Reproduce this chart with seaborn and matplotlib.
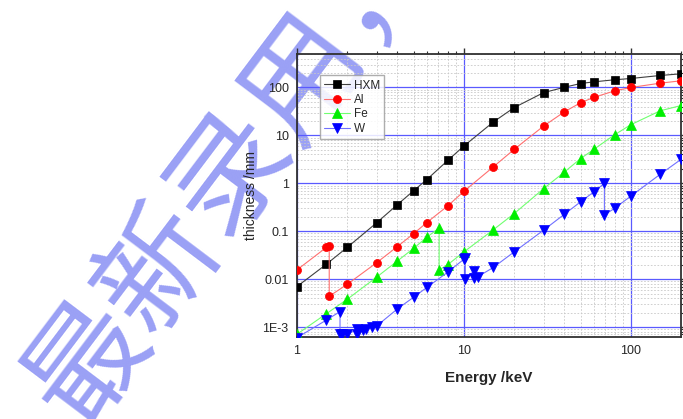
import numpy as np
import pandas as pd
import matplotlib
matplotlib.use("Agg")
import matplotlib.pyplot as plt
from matplotlib.ticker import FixedLocator, FixedFormatter, LogLocator, NullFormatter
import seaborn as sns

# ---- data ----
hxm_E = [1, 1.5, 2, 3, 4, 5, 6, 8, 10, 15, 20, 30, 40, 50, 60, 80, 100, 150, 200]
hxm_t = [0.0070, 0.0205, 0.046, 0.15, 0.36, 0.70, 1.2, 3.0, 6.0, 19, 38, 78, 101, 121, 131, 145, 154, 178, 193]

al_E = [1, 1.5, 1.56, 1.56, 2, 3, 4, 5, 6, 8, 10, 15, 20, 30, 40, 50, 60, 80, 100, 150, 200]
al_t = [0.0156, 0.046, 0.050, 0.0044, 0.0078, 0.022, 0.048, 0.089, 0.152, 0.337, 0.68, 2.2, 5.1, 15.6, 31, 48, 62, 85, 100, 123, 138]

fe_E = [1, 1.5, 2, 3, 4, 5, 6, 7.11, 7.11, 8, 10, 15, 20, 30, 40, 50, 60, 80, 100, 150, 200]
fe_t = [0.00071, 0.0019, 0.0038, 0.011, 0.024, 0.044, 0.075, 0.117, 0.0156, 0.020, 0.037, 0.107, 0.233, 0.77, 1.72, 3.27, 5.1, 10.3, 16.7, 32.6, 42]

w_E = [1, 1.5, 1.81, 1.81, 1.87, 2.0, 2.28, 2.28, 2.5, 2.6, 2.8, 3.0, 4, 5, 6, 8, 10, 10.2, 10.2,
       11.5, 11.5, 12.1, 15, 20, 30, 40, 50, 60, 69.5, 69.5, 80, 100, 150, 200]
w_t = [0.0006, 0.0014, 0.0021, 0.00072, 0.00070, 0.00070, 0.00090, 0.00073, 0.00085, 0.00092, 0.00098, 0.00105,
       0.0024, 0.0042, 0.0067, 0.014, 0.026, 0.027, 0.0102, 0.0148, 0.0104, 0.0112, 0.0175, 0.037, 0.105,
       0.226, 0.41, 0.66, 1.0, 0.22, 0.30, 0.54, 1.54, 3.16]

series_names = ["HXM", "Al", "Fe", "W"]
y_ticks = [0.001, 0.01, 0.1, 1, 10, 100]
y_tick_labels = ["1E-3", "0.01", "0.1", "1", "10", "100"]
x_ticks = [1, 10, 100]
x_tick_labels = ["1", "10", "100"]
watermark = "最新录用，"

# ---- style ----
sns.set_style("white")
plt.rcParams["font.family"] = ["Liberation Sans", "DejaVu Sans"]

fig = plt.figure(figsize=(6.83, 4.19), dpi=100)
ax = fig.add_axes([297 / 683, 1 - 337 / 419, (681 - 297) / 683, (337 - 54) / 419])
ax.patch.set_alpha(0.0)

styles = {
    "HXM": dict(line="#404040", mk="s", mc="black", ms=5.2),
    "Al": dict(line="#ff7070", mk="o", mc="#ff0000", ms=5.8),
    "Fe": dict(line="#70ff70", mk="^", mc="#00ee00", ms=6.5),
    "W": dict(line="#7070ff", mk="v", mc="#0000ff", ms=6.5),
}
data = {"HXM": (hxm_E, hxm_t), "Al": (al_E, al_t), "Fe": (fe_E, fe_t), "W": (w_E, w_t)}

for name in series_names:
    E, t = data[name]
    df = pd.DataFrame({"E": E, "t": t})
    st = styles[name]
    sns.lineplot(data=df, x="E", y="t", ax=ax, sort=False, estimator=None,
                 color=st["line"], lw=0.8, marker=st["mk"], markersize=st["ms"],
                 markerfacecolor=st["mc"], markeredgecolor=st["mc"], markeredgewidth=0.5,
                 label=name, zorder=3)

ax.set_xscale("log")
ax.set_yscale("log")
ax.set_xlim(1, 200)
ax.set_ylim(6.2e-4, 500)

ax.xaxis.set_major_locator(FixedLocator(x_ticks))
ax.xaxis.set_major_formatter(FixedFormatter(x_tick_labels))
ax.yaxis.set_major_locator(FixedLocator(y_ticks))
ax.yaxis.set_major_formatter(FixedFormatter(y_tick_labels))
ax.xaxis.set_minor_locator(LogLocator(base=10, subs=np.arange(2, 10), numticks=20))
ax.yaxis.set_minor_locator(LogLocator(base=10, subs=np.arange(2, 10), numticks=20))
ax.xaxis.set_minor_formatter(NullFormatter())
ax.yaxis.set_minor_formatter(NullFormatter())

ax.grid(True, which="major", color="#5a5aff", lw=0.9, ls="-", zorder=1)
ax.grid(True, which="minor", color="#c8c8c8", lw=0.6, ls=(0, (2, 2)), zorder=1)
ax.set_axisbelow(True)

for s in ax.spines.values():
    s.set_color("#303030")
    s.set_linewidth(1.3)

ax.tick_params(which="major", direction="out", length=4, width=1, color="#303030",
               labelsize=9, top=True, right=True, pad=2)
ax.tick_params(which="minor", direction="out", length=2.5, width=0.8, color="#303030",
               top=True, right=True)

ax.set_xlabel("Energy /keV", fontsize=11, fontweight="bold", labelpad=10)
ax.set_ylabel("thickness /mm", fontsize=10, labelpad=3)

leg = ax.legend(loc="upper left", bbox_to_anchor=(0.045, 0.945), fontsize=8.5,
                frameon=True, fancybox=False, edgecolor="#a0a0a0", borderpad=0.35,
                handlelength=2.2, handletextpad=0.3, labelspacing=0.2)
leg.get_frame().set_linewidth(1.0)
leg.get_frame().set_alpha(0.85)

# watermark drawn underneath the axes content
fig.text(232 / 683, 1 - 172 / 419, watermark, rotation=53, rotation_mode="anchor",
         ha="center", va="center", fontsize=86, color="#9aa0f5",
         family=["Noto Sans CJK SC", "DejaVu Sans"], zorder=-1)

fig.savefig("out.png", dpi=100)
